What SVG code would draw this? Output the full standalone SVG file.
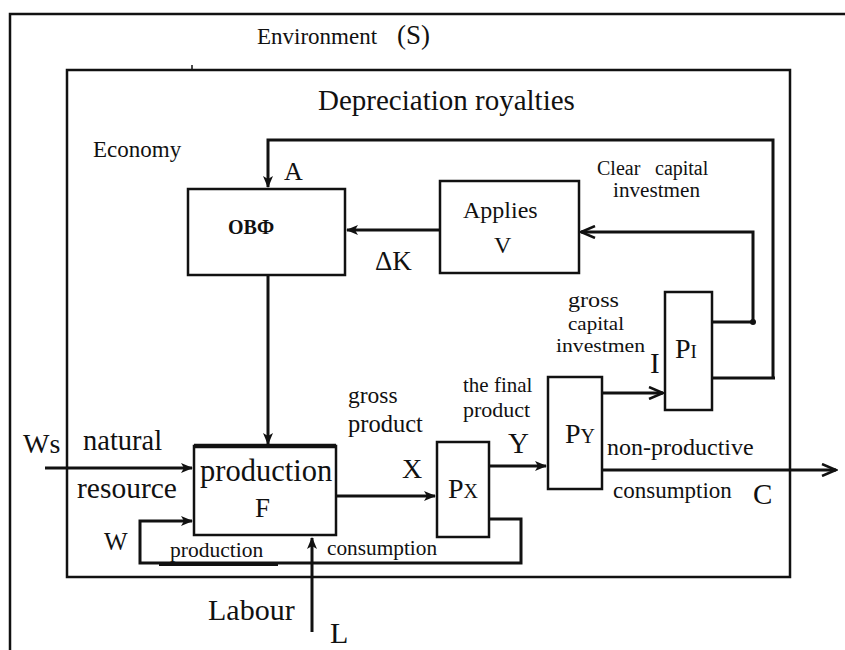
<svg xmlns="http://www.w3.org/2000/svg" width="845" height="650" viewBox="0 0 845 650">
<defs>
<style>
.t{font-family:"Liberation Serif","Times New Roman","DejaVu Serif",serif;fill:#111}
.s{font-weight:bold}
.b{fill:#fff;stroke:#111;stroke-width:2.5}
.c{fill:none;stroke:#111;stroke-width:3}
</style>
<marker id="af" viewBox="0 0 12 10" refX="11" refY="5" markerWidth="14" markerHeight="10" markerUnits="userSpaceOnUse" orient="auto">
<path d="M0,0 L12,5 L0,10 L3,5 z" fill="#111"/>
</marker>
<marker id="ao" viewBox="0 0 16 14" refX="15" refY="7" markerWidth="18" markerHeight="14" markerUnits="userSpaceOnUse" orient="auto">
<path d="M1,1 L15,7 L1,13" fill="none" stroke="#111" stroke-width="2.5"/>
</marker>
</defs>
<rect width="845" height="650" fill="#fff"/>
<g id="frames">
<path d="M10,650 V14 H845" fill="none" stroke="#111" stroke-width="2.5"/>
<rect x="67" y="70" width="723" height="507" fill="none" stroke="#111" stroke-width="2.5"/>
<line x1="192" y1="70" x2="192" y2="65" stroke="#111" stroke-width="1.5"/>
<text class="t" x="257" y="44" font-size="23">Environment</text>
<text class="t" x="397" y="44" font-size="27">(S)</text>
<text class="t" x="318" y="110" font-size="29">Depreciation royalties</text>
<text class="t" x="93" y="157" font-size="23">Economy</text>
</g>
<g id="connectors">
<path class="c" d="M773,378 V140 H268 V187" marker-end="url(#af)"/>
<path class="c" d="M440,230 H347" marker-end="url(#af)"/>
<path class="c" d="M712,322 H753 V232 H581" marker-end="url(#ao)"/>
<circle cx="753" cy="322" r="3" fill="#111"/>
<path class="c" d="M712,378 H775"/>
<path class="c" d="M268,275 V444" marker-end="url(#af)"/>
<path class="c" d="M45,468 H192" marker-end="url(#af)"/>
<path class="c" d="M489,519 H521 V563 H140 V521 H192" marker-end="url(#af)"/>
<path class="c" d="M336,496 H435" marker-end="url(#af)"/>
<path class="c" d="M489,466 H546" marker-end="url(#af)"/>
<path class="c" d="M602,393 H663" marker-end="url(#ao)"/>
<path class="c" d="M600,470 H836" marker-end="url(#ao)"/>
<path class="c" d="M312,632 V538" marker-end="url(#af)"/>
<line x1="159" y1="564" x2="278" y2="564" stroke="#111" stroke-width="4"/>
<text class="t" x="284" y="180" font-size="26">A</text>
<text class="t" x="375" y="270" font-size="27">ΔK</text>
<text class="t" x="597" y="175" font-size="20">Clear</text>
<text class="t" x="655" y="175" font-size="20">capital</text>
<text class="t" x="613" y="197" font-size="20" textLength="87" lengthAdjust="spacingAndGlyphs">investmen</text>
<text class="t" x="568" y="307" font-size="21" textLength="51" lengthAdjust="spacingAndGlyphs">gross</text>
<text class="t" x="568" y="330" font-size="19" textLength="56" lengthAdjust="spacingAndGlyphs">capital</text>
<text class="t" x="556" y="352" font-size="19" textLength="89" lengthAdjust="spacingAndGlyphs">investmen</text>
<text class="t" x="650" y="373" font-size="29">I</text>
<text class="t" x="463" y="392" font-size="21">the final</text>
<text class="t" x="463" y="417" font-size="22">product</text>
<text class="t" x="348" y="403" font-size="23.5">gross</text>
<text class="t" x="348" y="432" font-size="24.5">product</text>
<text class="t" x="402" y="478" font-size="28">X</text>
<text class="t" x="508" y="453" font-size="29">Y</text>
<text class="t" x="607" y="455" font-size="24">non-productive</text>
<text class="t" x="613" y="498" font-size="23">consumption</text>
<text class="t" x="753" y="504" font-size="29">C</text>
<text class="t" x="23" y="453" font-size="28">Ws</text>
<text class="t" x="83" y="450" font-size="28.5">natural</text>
<text class="t" x="77" y="498" font-size="29.5">resource</text>
<text class="t" x="104" y="550" font-size="25">W</text>
<text class="t" x="170" y="557" font-size="21.5">production</text>
<text class="t" x="327" y="555" font-size="21.3">consumption</text>
<text class="t" x="208" y="620" font-size="30">Labour</text>
<text class="t" x="330" y="643" font-size="30">L</text>
</g>
<g id="obf">
<rect class="b" x="188" y="189" width="157" height="86"/>
<text class="t s" x="228" y="234" font-size="20">ОВФ</text>
</g>
<g id="applies">
<rect class="b" x="440" y="181" width="139" height="92"/>
<text class="t" x="463" y="218" font-size="24">Applies</text>
<text class="t" x="494" y="253" font-size="24">V</text>
</g>
<g id="production">
<rect class="b" x="194" y="446" width="142" height="89"/>
<line x1="194" y1="446" x2="336" y2="446" stroke="#111" stroke-width="4.5"/>
<text class="t" x="200" y="481" font-size="30.5">production</text>
<text class="t" x="255" y="517" font-size="27">F</text>
</g>
<g id="px">
<rect class="b" x="437" y="442" width="52" height="95"/>
<text class="t" x="448" y="498" font-size="28">P<tspan font-size="20">X</tspan></text>
</g>
<g id="py">
<rect class="b" x="548" y="377" width="54" height="112"/>
<text class="t" x="565" y="443" font-size="28">P<tspan font-size="20">Y</tspan></text>
</g>
<g id="pi">
<rect class="b" x="665" y="292" width="47" height="118"/>
<text class="t" x="675" y="358" font-size="28">P<tspan font-size="19">I</tspan></text>
</g>
</svg>
